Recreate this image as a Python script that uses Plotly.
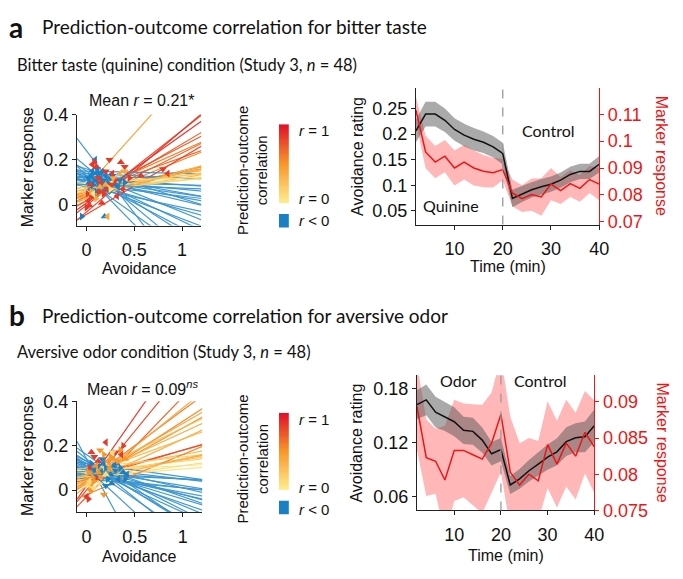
import plotly.graph_objects as go

W, H = 683, 579
OX, OY = 8, 8  # page body margin of the written html
def px(x): return (x - OX) / W
def py(y): return 1 - (y - OY) / H

# ---------------- data ----------------
# Panel a, per-subject regression lines (intercept, slope, correlation r)
A_B = [0.0, -0.03, 0.02, 0.04, 0.05, 0.02, 0.06, 0.03, 0.05, 0.06, 0.07, 0.04, 0.08, 0.01, -0.04,
       0.08, 0.06, 0.07, 0.09, 0.05, 0.08, 0.10, 0.06, 0.03,
       0.24, 0.14, 0.13, 0.15, 0.12, 0.11, 0.10, 0.12, 0.11, 0.13, 0.11, 0.12, 0.10, 0.14, 0.125, 0.15,
       0.09, 0.16, 0.09, 0.08, 0.10, 0.17, 0.13, 0.11]
A_M = [0.33, 0.36, 0.25, 0.22, 0.19, 0.21, 0.15, 0.17, 0.10, 0.09, 0.075, 0.10, 0.06, 0.30, 0.25,
       0.47, 0.08, 0.06, 0.04, 0.07, 0.03, 0.02, 0.05, 0.12,
       -0.55, -0.17, -0.20, -0.27, -0.22, -0.30, -0.12, -0.10, -0.075, -0.075, -0.04, -0.03, -0.01, -0.02, -0.005, -0.01,
       -0.015, -0.13, -0.05, -0.09, -0.16, -0.35, -0.43, -0.06]
A_R = [0.8, 0.85, 0.7, 0.75, 0.6, 0.65, 0.7, 0.55, 0.6, 0.5, 0.55, 0.45, 0.4, 0.9, 0.8,
       0.45, 0.3, 0.25, 0.2, 0.3, 0.1, 0.05, 0.15, 0.35,
       -0.5, -0.3, -0.3, -0.4, -0.3, -0.4, -0.2, -0.2, -0.2, -0.2, -0.1, -0.1, -0.05, -0.1, -0.05, -0.05,
       -0.1, -0.3, -0.2, -0.2, -0.3, -0.4, -0.4, -0.2]
# Panel a, trial points (avoidance, marker response, subject r)
A_PX = [0.05, 0.08, 0.10, 0.12, 0.15, 0.07, 0.03, 0.18, 0.20, 0.13, 0.09, 0.11, 0.06, 0.16, 0.22, 0.25,
        0.04, 0.14, 0.30, 0.35, 0.09, 0.12, 0.17, 0.02, 0.19, -0.05, 0.19, 0.27, 0.33, 0.40, 0.08, 0.24,
        0.02, 0.0, 0.03, 0.05, 0.06, 0.08, 0.10, 0.12, 0.15, 0.18, 0.21, 0.24, 0.27, 0.30, 0.36, 0.40,
        0.38, 0.45, 0.57, 0.80, 0.85, 0.13, 0.04, 0.20, 0.32, 0.01, 0.16, 0.26,
        0.22, 0.10, 0.14, 0.28, 0.35, 0.05, 0.20, 0.40, 0.07, 0.25]
A_PY = [0.13, 0.11, 0.14, 0.10, 0.12, 0.09, 0.10, 0.11, 0.13, 0.08, 0.06, 0.16, 0.15, 0.09, 0.10, 0.12,
        0.07, 0.14, 0.09, 0.11, 0.20, 0.12, 0.15, 0.12, 0.07, -0.05, -0.05, 0.13, 0.08, 0.10, 0.04, 0.06,
        0.02, -0.01, 0.0, 0.04, 0.18, 0.19, 0.17, 0.12, 0.10, 0.05, 0.07, 0.20, 0.14, 0.11, 0.19, 0.17,
        0.07, 0.12, 0.13, 0.16, 0.14, 0.06, 0.09, 0.15, 0.04, 0.05, 0.01, 0.09,
        -0.05, 0.03, 0.08, 0.12, 0.14, 0.06, 0.09, 0.15, 0.05, 0.07]
A_PR = [-0.3] * 32 + [0.85] * 28 + [0.4] * 8 + [0.05] * 2

# Panel b, per-subject regression lines
B_B = [0.0, 0.02, -0.03, 0.04, 0.03, 0.05, 0.04, 0.06, 0.03, 0.07, 0.05, 0.06, 0.08, 0.06, 0.07, 0.08,
       0.05, 0.06, -0.02, 0.09, 0.02, 0.10, 0.04, 0.07,
       0.16, 0.14, 0.12, 0.10, 0.11, 0.09, 0.12, 0.10, 0.08, 0.11, 0.09, 0.10, 0.08, 0.07, 0.12, 0.06,
       0.13, 0.14, 0.10, 0.09, 0.07, 0.13, 0.05, 0.11]
B_M = [0.53, 0.62, 0.45, 0.32, 0.28, 0.25, 0.24, 0.20, 0.20, 0.16, 0.13, 0.12, 0.08, 0.08, 0.065, 0.05,
       0.06, 0.035, 0.18, 0.02, 0.35, 0.05, 0.10, 0.21,
       -0.30, -0.80, -0.25, -0.20, -0.18, -0.15, -0.15, -0.12, -0.10, -0.10, -0.07, -0.05, -0.03, -0.02, -0.06, -0.05,
       -0.22, -0.35, -0.40, -0.13, -0.08, -0.27, -0.04, -0.30]
B_R = [0.8, 0.85, 0.7, 0.6, 0.55, 0.45, 0.5, 0.4, 0.35, 0.3, 0.7, 0.75, 0.3, 0.45, 0.25, 0.15,
       0.1, 0.05, 0.6, 0.05, 0.4, 0.2, 0.35, 0.3,
       -0.4, -0.5, -0.3, -0.3, -0.3, -0.2, -0.2, -0.2, -0.2, -0.2, -0.1, -0.1, -0.05, -0.05, -0.1, -0.1,
       -0.3, -0.4, -0.4, -0.2, -0.1, -0.3, -0.05, -0.3]
B_PX = [0.15, 0.20, 0.25, 0.30, 0.33, 0.40, 0.38, 0.12, 0.18, 0.22, 0.28, 0.10, 0.08, 0.35, 0.26, 0.16,
        0.42, 0.05, 0.31, 0.20,
        0.20, 0.38, 0.05, 0.08, 0.0, 0.02, 0.12, 0.30, 0.36, 0.03, 0.10,
        0.18, 0.05, 0.08, 0.12, 0.15, 0.22, 0.25, 0.28, 0.32, 0.10, 0.02, 0.06, 0.14, 0.24, 0.35, 0.40,
        0.0, 0.04, 0.18,
        0.01, 0.07, 0.03, 0.13, 0.20, 0.27]
B_PY = [0.08, 0.10, 0.07, 0.09, 0.05, 0.05, 0.08, 0.11, 0.12, 0.05, 0.11, 0.06, 0.09, 0.10, 0.03, 0.14,
        0.07, 0.12, 0.12, 0.02,
        0.215, 0.20, 0.17, 0.15, -0.03, -0.04, 0.13, 0.17, 0.16, 0.10, 0.05,
        -0.02, 0.02, 0.04, 0.08, 0.06, 0.13, 0.15, 0.14, 0.13, 0.11, 0.08, 0.06, 0.18, 0.10, 0.18, 0.14,
        0.05, 0.0, 0.16,
        0.02, 0.01, 0.04, 0.03, 0.07, 0.17]
B_PR = [-0.3] * 20 + [0.85] * 11 + [0.5] * 19 + [0.1] * 6

# Time courses (Study 3)
TIME = [2, 4, 6, 8, 10, 12, 14, 16, 18, 20, 22, 24, 26, 28, 30, 32, 34, 36, 38, 40]
A_AVOID = [0.206, 0.239, 0.239, 0.227, 0.209, 0.198, 0.190, 0.184, 0.175, 0.162,
           0.074, 0.083, 0.091, 0.097, 0.102, 0.110, 0.121, 0.127, 0.127, 0.141]
A_AVOID_SE = [0.022, 0.024, 0.024, 0.023, 0.022, 0.022, 0.022, 0.021, 0.021, 0.021,
              0.017, 0.016, 0.015, 0.015, 0.015, 0.015, 0.015, 0.015, 0.015, 0.016]
A_MARK = [0.1116, 0.0960, 0.0922, 0.0944, 0.0900, 0.0922, 0.0900, 0.0888, 0.0882, 0.0894,
          0.0807, 0.0786, 0.0801, 0.0792, 0.0840, 0.0816, 0.0842, 0.0824, 0.0857, 0.0840]
A_MARK_SE = [0.005, 0.006, 0.006, 0.006, 0.0065, 0.0065, 0.0065, 0.006, 0.0055, 0.004,
             0.005, 0.005, 0.006, 0.007, 0.006, 0.005, 0.005, 0.005, 0.005, 0.006]
B_AVOID = [0.1623, 0.1676, 0.154, 0.149, 0.1434, 0.1338, 0.1327, 0.123, 0.1078, 0.1124,
           0.0732, 0.080, 0.089, 0.0964, 0.104, 0.110, 0.1213, 0.1256, 0.1266, 0.139]
B_AVOID_SE = [0.016, 0.017, 0.017, 0.016, 0.016, 0.015, 0.015, 0.014, 0.013, 0.013,
              0.010, 0.011, 0.012, 0.013, 0.014, 0.015, 0.016, 0.016, 0.017, 0.018]
B_MARK = [0.0894, 0.0823, 0.0818, 0.0792, 0.0833, 0.0833, 0.0827, 0.0821, 0.0843, 0.0883,
          0.0803, 0.0785, 0.0800, 0.0791, 0.0841, 0.0814, 0.0843, 0.0825, 0.0858, 0.0838]
B_MARK_SE = [0.006, 0.0053, 0.0045, 0.0075, 0.007, 0.0065, 0.007, 0.0075, 0.007, 0.008,
             0.0077, 0.0058, 0.005, 0.0055, 0.006, 0.006, 0.006, 0.006, 0.0057, 0.0064]

# ---------------- styling ----------------
CS = [(0.0, (255, 236, 140)), (0.5, (249, 150, 40)), (1.0, (226, 16, 40))]
BLUE_LINE = 'rgb(62,150,208)'
BLUE_MARK = 'rgb(28,128,196)'
RED = 'rgb(235,22,22)'
SYMS = ['triangle-left', 'triangle-right', 'triangle-up', 'triangle-down']
SANS = 'Liberation Sans, Arial, sans-serif'
HUM = 'Lato, Open Sans, sans-serif'


def rcolor(r, blue=BLUE_LINE):
    if r < 0:
        return blue
    for (p0, c0), (p1, c1) in zip(CS[:-1], CS[1:]):
        if r <= p1:
            t = (r - p0) / (p1 - p0)
            return 'rgb(%d,%d,%d)' % tuple(round(a + (b - a) * t) for a, b in zip(c0, c1))
    return 'rgb(%d,%d,%d)' % CS[-1][1]


fig = go.Figure()


def add_scatter_panel(bs, ms, rs, pxs, pys, prs, xa, ya):
    XL = [-0.1, 1.25]
    n = len(bs)
    half = n // 2
    order = []
    for i in range(half):
        order += [i, half + i]
    for i in order:
        b, m, r = bs[i], ms[i], rs[i]
        fig.add_trace(go.Scatter(x=XL, y=[b + m * x for x in XL], mode='lines',
                                 line=dict(color=rcolor(r), width=1.2), opacity=0.95,
                                 xaxis=xa, yaxis=ya, hoverinfo='skip', showlegend=False))
    fig.add_trace(go.Scatter(x=pxs, y=pys, mode='markers',
                             marker=dict(size=7, color=[rcolor(r, BLUE_MARK) for r in prs],
                                         symbol=[SYMS[i % 4] for i in range(len(pxs))],
                                         line=dict(width=0)),
                             xaxis=xa, yaxis=ya, hoverinfo='skip', showlegend=False))


def add_time_panel(avoid, avoid_se, mark, mark_se, xa, ya_mark, ya_avoid, ya_line):
    mu = [m + s for m, s in zip(mark, mark_se)]
    ml = [m - s for m, s in zip(mark, mark_se)]
    fig.add_trace(go.Scatter(x=TIME + TIME[::-1], y=mu + ml[::-1], fill='toself',
                             fillcolor='rgba(255,95,95,0.45)', line=dict(width=0),
                             mode='lines', xaxis=xa, yaxis=ya_mark, hoverinfo='skip', showlegend=False))
    au = [a + s for a, s in zip(avoid, avoid_se)]
    al = [a - s for a, s in zip(avoid, avoid_se)]
    fig.add_trace(go.Scatter(x=TIME + TIME[::-1], y=au + al[::-1], fill='toself',
                             fillcolor='rgba(85,85,85,0.5)', line=dict(width=0),
                             mode='lines', xaxis=xa, yaxis=ya_avoid, hoverinfo='skip', showlegend=False))
    fig.add_trace(go.Scatter(x=TIME, y=avoid, mode='lines', line=dict(color='#111', width=1.5),
                             xaxis=xa, yaxis=ya_avoid, hoverinfo='skip', showlegend=False))
    fig.add_trace(go.Scatter(x=TIME, y=mark, mode='lines', line=dict(color=RED, width=1.5),
                             xaxis=xa, yaxis=ya_line, hoverinfo='skip', showlegend=False))


add_scatter_panel(A_B, A_M, A_R, A_PX, A_PY, A_PR, 'x', 'y')
add_scatter_panel(B_B, B_M, B_R, B_PX, B_PY, B_PR, 'x3', 'y5')
add_time_panel(A_AVOID, A_AVOID_SE, A_MARK, A_MARK_SE, 'x2', 'y2', 'y3', 'y4')
add_time_panel(B_AVOID, B_AVOID_SE, B_MARK, B_MARK_SE, 'x4', 'y6', 'y7', 'y8')

# colour bars
CB_LEVELS = [i / 63 for i in range(64)]
CB_SCALE = [[p, 'rgb(%d,%d,%d)' % c] for p, c in CS]
for xa, ya in (('x5', 'y9'), ('x6', 'y10')):
    fig.add_trace(go.Heatmap(z=[[v] for v in CB_LEVELS], x=[0], y=CB_LEVELS, colorscale=CB_SCALE,
                             zmin=0, zmax=1, showscale=False, xaxis=xa, yaxis=ya, hoverinfo='skip'))

TF = 18
AX = dict(showgrid=False, zeroline=False, showline=True, linecolor='#222', linewidth=1,
          ticks='outside', ticklen=4, tickcolor='#222', tickwidth=1,
          tickfont=dict(family=SANS, size=TF, color='#111'))
RAX = dict(AX, linecolor=RED, tickcolor=RED, tickfont=dict(family=SANS, size=TF, color=RED))
HID = dict(visible=False, showgrid=False, zeroline=False)

layout = dict(
    width=W, height=H, margin=dict(l=0, r=0, t=0, b=0),
    paper_bgcolor='white', plot_bgcolor='rgba(0,0,0,0)', showlegend=False,
    # scatter a
    xaxis=dict(AX, domain=[px(78), px(204)], range=[-0.1, 1.2], anchor='y',
               tickvals=[0, 0.5, 1], ticktext=['0', '0.5', '1'], ticklabelstandoff=4),
    yaxis=dict(AX, domain=[py(223), py(108)], range=[-0.09, 0.4], anchor='x',
               tickvals=[0, 0.2, 0.4], ticktext=['0', '0.2', '0.4']),
    # time a
    xaxis2=dict(AX, domain=[px(422), px(608)], range=[2, 40], anchor='y2',
                tickvals=[10, 20, 30, 40], ticklabelstandoff=4),
    yaxis2=dict(RAX, domain=[py(222), py(80)], range=[0.0689, 0.12], anchor='x2', side='right',
                tickvals=[0.07, 0.08, 0.09, 0.1, 0.11], ticktext=['0.07', '0.08', '0.09', '0.1', '0.11']),
    yaxis3=dict(AX, overlaying='y2', anchor='x2', side='left', range=[0.023, 0.291],
                tickvals=[0.05, 0.1, 0.15, 0.2, 0.25], ticktext=['0.05', '0.1', '0.15', '0.2', '0.25']),
    yaxis4=dict(HID, overlaying='y2', anchor='x2', range=[0.0689, 0.12]),
    # scatter b
    xaxis3=dict(AX, domain=[px(78), px(205)], range=[-0.1, 1.2], anchor='y5',
                tickvals=[0, 0.5, 1], ticktext=['0', '0.5', '1'], ticklabelstandoff=4),
    yaxis5=dict(AX, domain=[py(520), py(405)], range=[-0.1, 0.4], anchor='x3',
                tickvals=[0, 0.2, 0.4], ticktext=['0', '0.2', '0.4']),
    # time b
    xaxis4=dict(AX, domain=[px(423), px(603)], range=[2, 40], anchor='y6',
                tickvals=[10, 20, 30, 40], ticklabelstandoff=4),
    yaxis6=dict(RAX, domain=[py(518), py(378)], range=[0.075, 0.0937], anchor='x4', side='right',
                tickvals=[0.075, 0.08, 0.085, 0.09], ticktext=['0.075', '0.08', '0.085', '0.09']),
    yaxis7=dict(AX, overlaying='y6', anchor='x4', side='left', range=[0.045, 0.195],
                tickvals=[0.06, 0.12, 0.18], ticktext=['0.06', '0.12', '0.18']),
    yaxis8=dict(HID, overlaying='y6', anchor='x4', range=[0.075, 0.0937]),
    # colour bars
    xaxis5=dict(HID, domain=[px(283), px(293)], range=[-0.5, 0.5], anchor='y9'),
    yaxis9=dict(HID, domain=[py(200), py(118)], range=[-0.008, 1.008], anchor='x5'),
    xaxis6=dict(HID, domain=[px(283), px(293)], range=[-0.5, 0.5], anchor='y10'),
    yaxis10=dict(HID, domain=[py(497), py(417)], range=[-0.008, 1.008], anchor='x6'),
)
fig.update_layout(**layout)

shapes = []
for xr, yr in (('x2', 'y2 domain'), ('x4', 'y6 domain')):
    shapes.append(dict(type='line', xref=xr, yref=yr, x0=20, x1=20, y0=0, y1=1,
                       line=dict(color='#999', width=1.3, dash='dash')))
for y0 in (211, 508):
    shapes.append(dict(type='rect', xref='paper', yref='paper', x0=px(283), x1=px(293),
                       y0=py(y0 + 14), y1=py(y0), line=dict(width=0), fillcolor='rgb(26,128,196)'))
fig.update_layout(shapes=shapes)


def ann(text, x, y, size=16, family=SANS, color='#111', xanchor='center', angle=0):
    return dict(text=text, x=px(x), y=py(y), xref='paper', yref='paper', showarrow=False,
                xanchor=xanchor, yanchor='middle', textangle=angle,
                font=dict(family=family, size=size, color=color))


OFF = 299
annotations = [
    ann('<b>a</b>', 7, 17, size=28, family=HUM, xanchor='left'),
    ann('Prediction-outcome correlation for bitter taste', 40, 17, size=19, family=HUM, xanchor='left'),
    ann('Bitter taste (quinine) condition (Study 3, <i>n</i> = 48)', 15, 57, size=16.5, family=HUM, xanchor='left'),
    ann('<b>b</b>', 7, 17 + OFF, size=28, family=HUM, xanchor='left'),
    ann('Prediction-outcome correlation for aversive odor', 40, 17 + OFF, size=19, family=HUM, xanchor='left'),
    ann('Aversive odor condition (Study 3, <i>n</i> = 48)', 15, 354, size=16.5, family=HUM, xanchor='left'),
    ann('Mean <i>r</i> = 0.21*', 143, 93),
    ann('Mean <i>r</i> = 0.09<sup><i>ns</i></sup>', 145, 391),
    ann('Marker response', 28, 163, angle=-90),
    ann('Marker response', 28, 462, angle=-90),
    ann('Avoidance', 141, 267),
    ann('Avoidance', 141, 566),
    ann('Avoidance rating', 362, 151, angle=-90),
    ann('Avoidance rating', 362, 448, angle=-90),
    ann('Marker response', 672, 151, color=RED, angle=90),
    ann('Marker response', 672, 448, color=RED, angle=90),
    ann('Time (min)', 515, 265),
    ann('Time (min)', 513, 565),
    ann('Quinine', 458, 202, family=HUM),
    ann('Control', 557, 125, family=HUM),
    ann('Odor', 465, 383, family=HUM),
    ann('Control', 548, 383, family=HUM),
]
for dy in (0, OFF):
    annotations += [
        ann('Prediction-outcome<br>correlation', 256, 166 + dy, size=15, angle=-90),
        ann('<i>r</i> = 1', 301, 125 + dy, size=15, xanchor='left'),
        ann('<i>r</i> = 0', 301, 195 + dy, size=15, xanchor='left'),
        ann('<i>r</i> &lt; 0', 301, 218 + dy, size=15, xanchor='left'),
    ]
fig.update_layout(annotations=annotations)

fig.write_html('out.html')
